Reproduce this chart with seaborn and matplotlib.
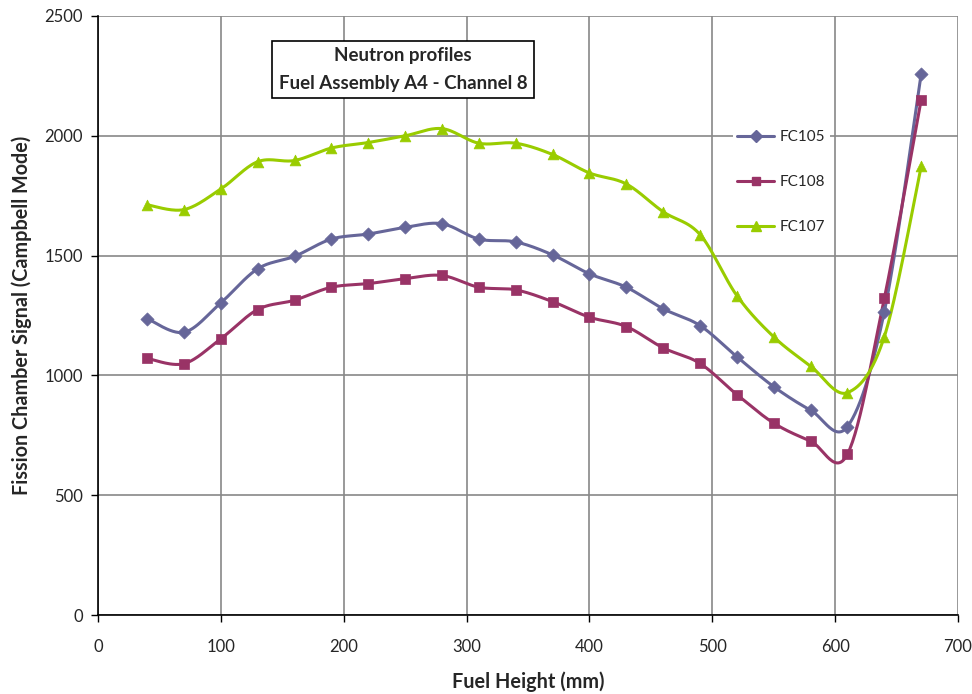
import numpy as np
import pandas as pd
import matplotlib
matplotlib.use("Agg")
import matplotlib.pyplot as plt
from matplotlib.lines import Line2D
import seaborn as sns

heights = [40, 70, 100, 130, 160, 190, 220, 250, 280, 310, 340, 370, 400,
           430, 460, 490, 520, 550, 580, 610, 640, 670]
fc105 = [1237, 1180, 1303, 1445, 1497, 1569, 1590, 1618, 1633, 1569, 1557,
         1503, 1424, 1368, 1278, 1208, 1078, 953, 855, 786, 1265, 2258]
fc108 = [1071, 1049, 1153, 1275, 1314, 1368, 1383, 1404, 1417, 1368, 1357,
         1308, 1243, 1204, 1115, 1050, 920, 801, 726, 671, 1321, 2150]
fc107 = [1712, 1692, 1778, 1892, 1897, 1949, 1972, 2000, 2030, 1969, 1969,
         1922, 1845, 1799, 1683, 1588, 1333, 1161, 1039, 928, 1161, 1872]
series_names = ["FC105", "FC108", "FC107"]
colors = ["#666699", "#993366", "#99CC00"]
markers = ["D", "s", "^"]
title_lines = ["Neutron profiles", "Fuel Assembly A4 - Channel 8"]

sns.set_theme(style="white")
plt.rcParams['font.family'] = ['Lato', 'DejaVu Sans']

def smooth(x, y, n=30):
    # Excel-like smoothed line (Catmull-Rom via cubic Bezier)
    x = np.asarray(x, float); y = np.asarray(y, float)
    px = np.concatenate([[x[0]], x, [x[-1]]])
    py = np.concatenate([[y[0]], y, [y[-1]]])
    xs, ys = [], []
    t = np.linspace(0, 1, n)
    for i in range(1, len(px) - 2):
        p0 = np.array([px[i], py[i]]); p3 = np.array([px[i+1], py[i+1]])
        c1 = p0 + (np.array([px[i+1], py[i+1]]) - np.array([px[i-1], py[i-1]])) / 6
        c2 = p3 - (np.array([px[i+2], py[i+2]]) - np.array([px[i], py[i]])) / 6
        b = ((1-t)**3)[:, None]*p0 + (3*(1-t)**2*t)[:, None]*c1 + (3*(1-t)*t**2)[:, None]*c2 + (t**3)[:, None]*p3
        xs.extend(b[:, 0]); ys.extend(b[:, 1])
    return np.array(xs), np.array(ys)

fig = plt.figure(figsize=(9.72, 6.94), dpi=100)
ax = fig.add_axes([98/972, 1-615/694, 860/972, 599/694])

handles = []
for name, vals, c, m in zip(series_names, [fc105, fc108, fc107], colors, markers):
    sx, sy = smooth(heights, vals)
    dfl = pd.DataFrame({"x": sx, "y": sy})
    sns.lineplot(data=dfl, x="x", y="y", ax=ax, color=c, lw=2.2, sort=False,
                 estimator=None, zorder=3)
    dfp = pd.DataFrame({"x": heights, "y": vals})
    ms = 55 if m == "s" else (60 if m == "^" else 45)
    sns.scatterplot(data=dfp, x="x", y="y", ax=ax, color=c, marker=m, s=ms,
                    edgecolor=c, linewidth=0.5, zorder=4)
    handles.append(Line2D([0], [0], color=c, lw=2.2, marker=m,
                          markersize=6 if m != "^" else 7, label=name))

ax.set_xlim(0, 700)
ax.set_ylim(0, 2500)
ax.set_xticks(np.arange(0, 701, 100))
ax.set_yticks(np.arange(0, 2501, 500))
ax.grid(True, color="#888888", lw=1.2)
ax.set_axisbelow(True)
for s in ["top", "right"]:
    ax.spines[s].set_visible(False)
for s in ["left", "bottom"]:
    ax.spines[s].set_color("black")
    ax.spines[s].set_linewidth(1.2)
ax.tick_params(axis="both", which="both", direction="out", length=5,
               width=1, color="black", labelsize=12, pad=6, left=True, bottom=True)
ax.tick_params(axis="x", pad=12)
ax.set_xlabel("Fuel Height (mm)", fontsize=14.3, fontweight="bold", labelpad=12)
ax.set_ylabel("Fission Chamber Signal (Campbell Mode)", fontsize=14.2,
              fontweight="bold", labelpad=9)

leg = ax.legend(handles=handles, loc="upper left", bbox_to_anchor=(725/972, 1-118/694),
                bbox_transform=fig.transFigure, frameon=True, fontsize=11,
                labelspacing=2.02, handlelength=2.4, handletextpad=0.4,
                borderpad=0.3)
leg.get_frame().set_facecolor("white")
leg.get_frame().set_edgecolor("none")
leg.get_frame().set_alpha(1)

ax.text(403/972, 1-69.5/694, "\n".join(title_lines), transform=fig.transFigure,
        ha="center", va="center", fontsize=13.5, fontweight="bold",
        linespacing=1.75, zorder=6,
        bbox=dict(boxstyle="square,pad=0.35", facecolor="white", edgecolor="black", lw=1.2))

fig.savefig("out.png", dpi=100)
